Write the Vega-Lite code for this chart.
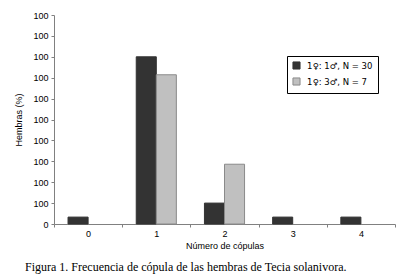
{
  "$schema": "https://vega.github.io/schema/vega-lite/v6.json",
  "width": 341,
  "height": 209,
  "autosize": "none",
  "padding": {"left": 54, "top": 15, "right": 10, "bottom": 56},
  "background": "white",
  "data": {"values": [
    {"copulas": 0, "grupo": "1♀: 1♂, N = 30", "hembras": 3.3},
    {"copulas": 1, "grupo": "1♀: 1♂, N = 30", "hembras": 80},
    {"copulas": 2, "grupo": "1♀: 1♂, N = 30", "hembras": 10},
    {"copulas": 3, "grupo": "1♀: 1♂, N = 30", "hembras": 3.3},
    {"copulas": 4, "grupo": "1♀: 1♂, N = 30", "hembras": 3.3},
    {"copulas": 1, "grupo": "1♀: 3♂, N = 7", "hembras": 71.4},
    {"copulas": 2, "grupo": "1♀: 3♂, N = 7", "hembras": 28.6}
  ]},
  "title": {
    "text": "Figura 1. Frecuencia de cópula de las hembras de Tecia solanivora.",
    "orient": "bottom",
    "anchor": "start",
    "dx": 10,
    "offset": 12,
    "font": "Liberation Serif",
    "fontSize": 12,
    "fontWeight": "normal",
    "color": "#000000"
  },
  "mark": {"type": "bar", "strokeWidth": 1},
  "encoding": {
    "x": {
      "field": "copulas", "type": "ordinal",
      "scale": {"paddingInner": 0, "paddingOuter": 0},
      "axis": {
        "title": "Número de cópulas",
        "labelAngle": 0,
        "tickBand": "extent",
        "tickSize": 3,
        "labelPadding": 2,
        "titlePadding": 3,
        "encode": {"labels": {"update": {"dx": {"signal": "(+datum.value == 1 || +datum.value == 2) ? 0 : -9"}}}}
      }
    },
    "xOffset": {
      "field": "grupo", "type": "nominal",
      "scale": {"paddingOuter": 0.7, "paddingInner": 0}
    },
    "y": {
      "field": "hembras", "type": "quantitative",
      "scale": {"domain": [0, 100], "nice": false},
      "axis": {
        "title": "Hembras (%)",
        "values": [0, 10, 20, 30, 40, 50, 60, 70, 80, 90, 100],
        "labelExpr": "datum.value == 0 ? '0' : '100'",
        "grid": false,
        "tickSize": 3,
        "labelPadding": 3,
        "titlePadding": 9
      }
    },
    "color": {
      "field": "grupo", "type": "nominal",
      "scale": {"range": ["#333333", "#c0c0c0"]},
      "legend": {
        "title": null,
        "orient": "none",
        "legendX": 233,
        "legendY": 41,
        "direction": "vertical",
        "strokeColor": "#000000",
        "padding": 5,
        "symbolType": "square",
        "symbolSize": 50,
        "symbolStrokeWidth": 1,
        "labelFontSize": 8.5,
        "labelFont": "DejaVu Sans",
        "labelColor": "#000000",
        "rowPadding": 3,
        "labelOffset": 6
      }
    },
    "stroke": {
      "field": "grupo", "type": "nominal",
      "scale": {"range": ["#333333", "#8a8a8a"]},
      "legend": null
    }
  },
  "config": {
    "view": {"stroke": null},
    "axis": {
      "labelFont": "Liberation Sans",
      "titleFont": "Liberation Sans",
      "labelFontSize": 9,
      "titleFontSize": 9,
      "titleFontWeight": "normal",
      "labelColor": "#000000",
      "titleColor": "#000000",
      "domainColor": "#808080",
      "tickColor": "#808080"
    }
  }
}
